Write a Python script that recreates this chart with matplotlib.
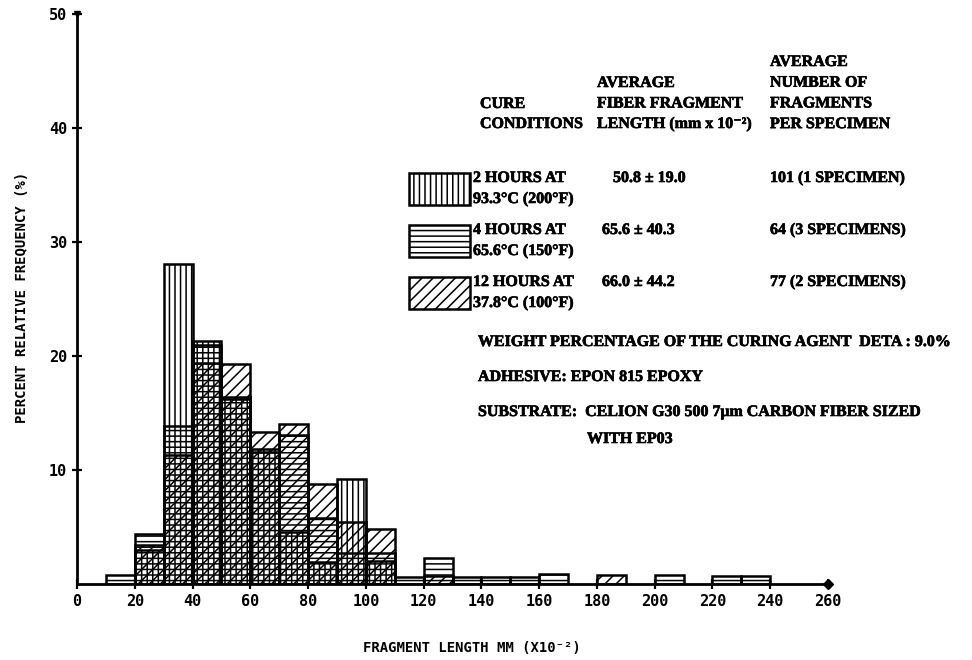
import matplotlib
matplotlib.use("Agg")
import matplotlib.pyplot as plt
import matplotlib.patheffects as pe
from matplotlib.patches import Rectangle
import numpy as np

# fragment length bins (x10^-2 mm), left edges, width 10
bin_left = [10, 20, 30, 40, 50, 60, 70, 80, 90, 100, 110, 120,
            130, 140, 150, 160, 170, 180, 190, 200, 210, 220, 230]

# percent relative frequency per bin for each cure condition
freq_2h = [0, 3.0, 28.1, 21.3, 16.2, 11.8, 4.6, 1.9, 9.2, 2.0, 0, 0,
           0, 0, 0, 0, 0, 0, 0, 0, 0, 0, 0]
freq_4h = [0.8, 4.4, 13.9, 21.0, 16.4, 11.6, 13.1, 5.8, 2.7, 2.7, 0.6, 2.3,
           0.6, 0.6, 0.6, 0.9, 0, 0, 0, 0.8, 0, 0.7, 0.7]
freq_12h = [0, 3.4, 11.3, 19.4, 19.3, 13.3, 14.0, 8.8, 5.4, 4.8, 0, 0.7,
            0, 0, 0, 0, 0, 0.8, 0, 0, 0, 0, 0]

cure_lines = [("2 HOURS AT", "93.3°C (200°F)"),
              ("4 HOURS AT", "65.6°C (150°F)"),
              ("12 HOURS AT", "37.8°C (100°F)")]
avg_length = ["50.8 ± 19.0", "65.6 ± 40.3", "66.0 ± 44.2"]
avg_count = ["101 (1 SPECIMEN)", "64 (3 SPECIMENS)", "77 (2 SPECIMENS)"]
hatches = ["|||", "---", "///"]

W, H = 972, 660
serif = ["Liberation Serif", "DejaVu Serif"]
plt.rcParams["hatch.linewidth"] = 1.1
plt.rcParams["font.family"] = ["DejaVu Sans Mono"]
plt.rcParams["font.weight"] = "bold"


def fx(px):
    return px / W


def fy(py):
    return 1 - py / H


fig = plt.figure(figsize=(9.72, 6.6), dpi=100)
ax = fig.add_axes([fx(77), fy(584), fx(828) - fx(77), fy(14) - fy(584)])

x = np.array(bin_left)
for vals, h in zip([freq_2h, freq_4h, freq_12h], hatches):
    vals = np.array(vals)
    keep = vals > 0
    ax.bar(x[keep], vals[keep], width=10, align="edge", fill=False,
           hatch=h, edgecolor="black", linewidth=1.8)

ax.set_xlim(0, 260)
ax.set_ylim(0, 50)
for s in ["top", "right"]:
    ax.spines[s].set_visible(False)
for s in ["left", "bottom"]:
    ax.spines[s].set_linewidth(2)

ax.set_xticks(np.arange(0, 261, 20))
ax.set_yticks([10, 20, 30, 40, 50])
ax.tick_params(axis="both", direction="inout", length=7, width=1.6,
               labelsize=11)
ax.tick_params(axis="x", pad=4)
ax.plot([260], [0], marker="D", ms=5, color="black", clip_on=False)
ax.plot([0], [50], marker="v", ms=5, color="black", clip_on=False)

fig.text(fx(22), fy(297), "PERCENT RELATIVE FREQUENCY (%)", rotation=90,
         ha="center", va="center", fontsize=10)
fig.text(fx(472), fy(648), "FRAGMENT LENGTH MM (X10⁻²)",
         ha="center", va="center", fontsize=10)

# table-style key
heavy = [pe.withStroke(linewidth=0.45, foreground="black")]
tkw = dict(family=serif, weight="bold", fontsize=11.5, va="center", ha="left",
           path_effects=heavy)
for i, t in enumerate(["CURE", "CONDITIONS"]):
    fig.text(fx(480), fy(104 + 20 * i), t, **tkw)
for i, t in enumerate(["AVERAGE", "FIBER FRAGMENT", "LENGTH (mm x 10⁻²)"]):
    fig.text(fx(597), fy(83 + 20.5 * i), t, **tkw)
for i, t in enumerate(["AVERAGE", "NUMBER OF", "FRAGMENTS", "PER SPECIMEN"]):
    fig.text(fx(770), fy(62 + 20.7 * i), t, **tkw)

row_y = [178, 230, 282]
for i in range(3):
    y0 = row_y[i]
    fig.add_artist(Rectangle((fx(409), fy(y0 + 27)), fx(470) - fx(409),
                             fy(y0 - 5) - fy(y0 + 27), transform=fig.transFigure,
                             fill=False, hatch=hatches[i], edgecolor="black",
                             linewidth=1.8))
    fig.text(fx(473), fy(y0), cure_lines[i][0], **tkw)
    fig.text(fx(473), fy(y0 + 21), cure_lines[i][1], **tkw)
    fig.text(fx(613 if i == 0 else 602), fy(y0), avg_length[i], **tkw)
    fig.text(fx(770), fy(y0), avg_count[i], **tkw)

fig.text(fx(478), fy(342), "WEIGHT PERCENTAGE OF THE CURING AGENT  DETA : 9.0%", **tkw)
fig.text(fx(478), fy(377), "ADHESIVE: EPON 815 EPOXY", **tkw)
fig.text(fx(478), fy(412), "SUBSTRATE:  CELION G30 500 7μm CARBON FIBER SIZED", **tkw)
fig.text(fx(587), fy(439), "WITH EP03", **tkw)

fig.savefig("out.png", dpi=100)
